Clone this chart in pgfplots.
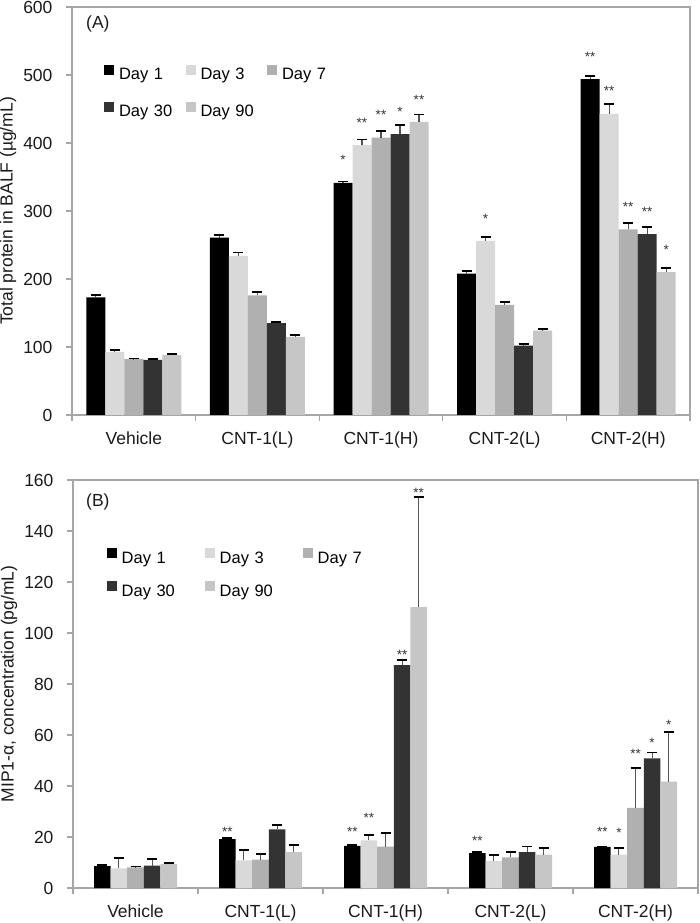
\documentclass[border=0pt]{standalone}
\usepackage{pgfplots}
\pgfplotsset{compat=1.18}
\usepackage{pgfplotstable}
\usepackage{fontspec}
\setmainfont{Liberation Sans}

\definecolor{cA}{HTML}{000000}
\definecolor{cB}{HTML}{D9D9D9}
\definecolor{cC}{HTML}{B0B0B0}
\definecolor{cD}{HTML}{333333}
\definecolor{cE}{HTML}{C6C6C6}
\definecolor{axisgray}{HTML}{A6A6A6}
\definecolor{txt}{HTML}{1A1A1A}
\definecolor{starc}{HTML}{333333}
\definecolor{errc}{HTML}{555555}

\newcommand{\lbl}{\fontsize{17.5pt}{20pt}\selectfont}
\newcommand{\lgd}{\fontsize{16.5pt}{19pt}\selectfont}
\newcommand{\starfont}{\fontsize{13.5pt}{15pt}\selectfont}

% ---------------- Panel A: total protein (ug/mL) ----------------
\pgfplotstableread{
x y err lab so
0 173 3 {} 0
1 261 4 {} 0
2 341.5 2 * 22.5
3 208 4 {} 0
4 494 5 ** 22.5
}\tAa
\pgfplotstableread{
x y err lab so
0 93 2 {} 0
1 234 5 {} 0
2 397 8 ** 22.5
3 256 6 * 22.5
4 443 14 ** 22.5
}\tAb
\pgfplotstableread{
x y err lab so
0 82 1 {} 0
1 176 5 {} 0
2 408 10 ** 22.5
3 162 4 {} 0
4 273 9 ** 22.5
}\tAc
\pgfplotstableread{
x y err lab so
0 81 1 {} 0
1 135 2 {} 0
2 413 13 * 22.5
3 102 2 {} 0
4 266 10 ** 22.5
}\tAd
\pgfplotstableread{
x y err lab so
0 88 1.5 {} 0
1 115 3 {} 0
2 431 11 ** 22.5
3 124 2 {} 0
4 210 6 * 22.5
}\tAe

% ---------------- Panel B: MIP1-alpha (pg/mL) ----------------
\pgfplotstableread{
x y err lab so
0 8.6 0.4 {} 0
1 19.2 0.3 ** 7
2 16.5 0.5 ** 13.8
3 13.7 0.3 ** 12.2
4 16.1 0.2 ** 14.8
}\tBa
\pgfplotstableread{
x y err lab so
0 7.7 4.1 {} 0
1 10.8 4.0 {} 0
2 18.7 2.1 ** 22.5
3 10.5 2.3 {} 0
4 13.1 2.6 * 22.2
}\tBb
\pgfplotstableread{
x y err lab so
0 8.1 0.3 {} 0
1 11.1 2.2 {} 0
2 16.2 5.5 {} 0
3 12.0 2.1 {} 0
4 31.4 15.7 ** 53.8
}\tBc
\pgfplotstableread{
x y err lab so
0 8.8 2.6 {} 0
1 23.0 1.7 {} 0
2 87.4 2.0 ** 10.2
3 14.1 2.2 {} 0
4 50.8 2.3 * 15.2
}\tBd
\pgfplotstableread{
x y err lab so
0 9.5 0.3 {} 0
1 14.1 2.8 {} 0
2 110.1 43.2 ** 114.5
3 13.1 2.5 {} 0
4 41.7 19.5 * 56.8
}\tBe

\pgfplotsset{
  barplot/.style={
    fill=#1, draw=none,
    legend image code/.code={\fill[#1] (0pt,1pt) rectangle (10pt,11pt);},
    error bars/.cd, y dir=plus, y explicit,
      error bar style={line width=1.1pt, color=errc},
      error mark options={rotate=90, mark size=5pt, line width=1.8pt, color=black},
    /pgfplots/.cd,
    nodes near coords, point meta=explicit symbolic,
    visualization depends on={\thisrow{so} \as \soff},
    every node near coord/.append style={anchor=center, yshift=\soff pt, font=\starfont, text=starc, inner sep=0pt},
  },
  common/.style={
    xmin=-0.5, xmax=4.5,
    xtick={-0.5,0.5,1.5,2.5,3.5,4.5}, xticklabels={},
    extra x ticks={0,1,2,3,4},
    extra x tick labels={Vehicle,CNT-1(L),CNT-1(H),CNT-2(L),CNT-2(H)},
    extra x tick style={tick style={draw=none}},
    xtick pos=left, ytick pos=left,
    tick align=outside,
    major tick length=6pt,
    axis line style={draw=axisgray, line width=1.3pt},
    tick style={draw=axisgray, line width=1.3pt},
    tick label style={font=\lbl, text=txt},
    xticklabel style={yshift=-7pt},
    yticklabel style={xshift=-10pt},
    /pgf/number format/assume math mode=true,
    every axis y label/.style={at={(axis description cs:0,0.5)}, xshift=-64pt, rotate=90, anchor=center, font=\lbl, text=txt},
    legend cell align=left,
    legend columns=3,
  },
}

\begin{document}
\begin{tikzpicture}
\path[use as bounding box] (0pt,0pt) rectangle (700pt,923pt);

\begin{axis}[
  common,
  at={(72pt,508pt)}, anchor=south west,
  scale only axis, width=618pt, height=408pt,
  ybar=0pt, bar width=19pt,
  ymin=0, ymax=600, ytick={0,100,...,600},
  ylabel={Total protein in BALF (µg/mL)},
  legend style={at={(axis description cs:0,1)}, anchor=north west, xshift=32pt, yshift=-58pt,
    draw=none, fill=none, inner sep=0pt, outer sep=0pt, row sep=18pt, font=\lgd, text=black,
    nodes={inner sep=0pt, text height=12pt, text depth=4pt, text width=60pt, align=left},
    /tikz/every odd column/.append style={column sep=5pt},
    /tikz/every even column/.append style={column sep=6.5pt}},
]
\addplot[barplot=cA] table[x=x, y=y, y error=err, meta=lab] {\tAa};
\addplot[barplot=cB] table[x=x, y=y, y error=err, meta=lab] {\tAb};
\addplot[barplot=cC] table[x=x, y=y, y error=err, meta=lab] {\tAc};
\addplot[barplot=cD] table[x=x, y=y, y error=err, meta=lab] {\tAd};
\addplot[barplot=cE] table[x=x, y=y, y error=err, meta=lab] {\tAe};
\legend{Day 1, Day 3, Day 7, Day 30, Day 90}
\node[anchor=west, font=\lbl, text=txt, inner sep=0pt, xshift=14pt, yshift=-17pt] at (rel axis cs:0,1) {(A)};
\end{axis}

\begin{axis}[
  common,
  at={(73pt,35pt)}, anchor=south west,
  scale only axis, width=625pt, height=408pt,
  ybar=0pt, bar width=16.6pt,
  ymin=0, ymax=160, ytick={0,20,...,160},
  ylabel={MIP1-α, concentration (pg/mL)},
  legend style={at={(axis description cs:0,1)}, anchor=north west, xshift=33.7pt, yshift=-68.3pt,
    draw=none, fill=none, inner sep=0pt, outer sep=0pt, row sep=14pt, font=\lgd, text=black,
    nodes={inner sep=0pt, text height=12pt, text depth=4pt, text width=60pt, align=left},
    /tikz/every odd column/.append style={column sep=5pt},
    /tikz/every even column/.append style={column sep=23pt}},
]
\addplot[barplot=cA] table[x=x, y=y, y error=err, meta=lab] {\tBa};
\addplot[barplot=cB] table[x=x, y=y, y error=err, meta=lab] {\tBb};
\addplot[barplot=cC] table[x=x, y=y, y error=err, meta=lab] {\tBc};
\addplot[barplot=cD] table[x=x, y=y, y error=err, meta=lab] {\tBd};
\addplot[barplot=cE] table[x=x, y=y, y error=err, meta=lab] {\tBe};
\legend{Day 1, Day 3, Day 7, Day 30, Day 90}
\node[anchor=west, font=\lbl, text=txt, inner sep=0pt, xshift=13pt, yshift=-21.7pt] at (rel axis cs:0,1) {(B)};
\end{axis}
\end{tikzpicture}
\end{document}
